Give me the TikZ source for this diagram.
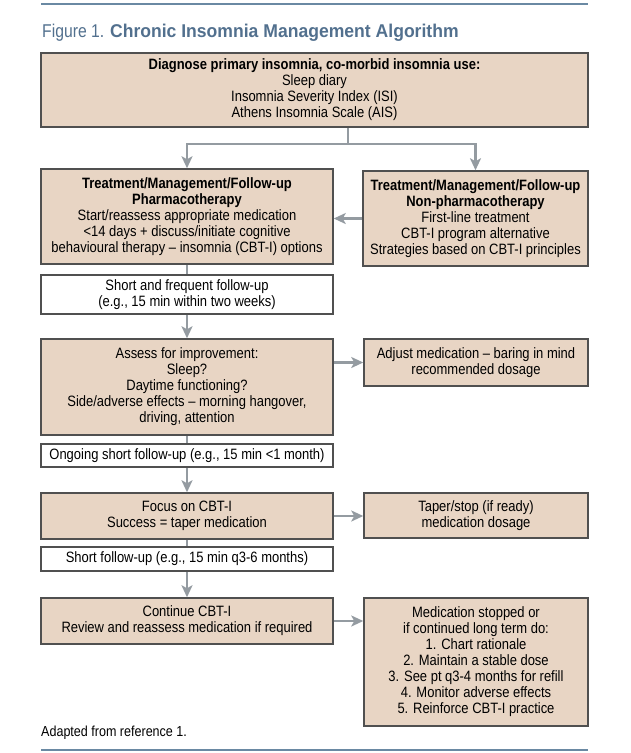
\documentclass[tikz,border=0pt]{standalone}
\usepackage{fontspec}
\setmainfont{Liberation Sans}[FakeStretch=0.865]
\newfontfamily\figfont{Liberation Sans}[FakeStretch=0.85]
\newfontfamily\headfont{Liberation Sans}[FakeStretch=0.95]
\usetikzlibrary{arrows.meta}
\definecolor{boxfill}{HTML}{E8D5C4}
\definecolor{boxline}{HTML}{505050}
\definecolor{linkgrey}{HTML}{949BA1}
\definecolor{ruleblue}{HTML}{6A89A3}
\definecolor{titleblue}{HTML}{52708E}

\begin{document}
\begin{tikzpicture}[x=1pt, y=-1pt, font=\fontsize{15}{16}\selectfont, box/.style={draw=boxline, fill=boxfill, line width=1.5pt, align=center, inner sep=0pt}, blank/.style={box, fill=white}, link/.style={draw=linkgrey, line width=2.2pt}, arr/.style={link, -{Stealth[length=12pt, width=11pt, inset=3pt]}}, rule/.style={draw=ruleblue, line width=1.8pt}]
\useasboundingbox (0,0) rectangle (630,753);
\draw[rule] (41,4) -- (588,4); \draw[rule] (41,750) -- (588,750);
\node[anchor=base west, text=titleblue, font=\fontsize{18.5}{20}\selectfont, inner sep=0pt] (title) at (42,37) {{\figfont Figure 1. }{\headfont\bfseries Chronic Insomnia Management Algorithm}};
\node[box, minimum width=547pt, minimum height=74pt] (diag) at (314.5,90) {\textbf{Diagnose primary insomnia, co-morbid insomnia use:}\\Sleep diary\\Insomnia Severity Index (ISI)\\Athens Insomnia Scale (AIS)};
\node[box, minimum width=292pt, minimum height=95pt] (pharm) at (187,216.5) {\textbf{Treatment/Management/Follow-up}\\\textbf{Pharmacotherapy}\\Start/reassess appropriate medication\\<14 days + discuss/initiate cognitive\\behavioural therapy -- insomnia (CBT-I) options};
\node[box, minimum width=225pt, minimum height=95pt] (nonph) at (475.5,218.5) {\textbf{Treatment/Management/Follow-up}\\\textbf{Non-pharmacotherapy}\\First-line treatment\\CBT-I program alternative\\Strategies based on CBT-I principles};
\node[blank, minimum width=292pt, minimum height=39pt] (fuA) at (187,294.5) {Short and frequent follow-up\\(e.g., 15 min within two weeks)};
\node[box, minimum width=292pt, minimum height=96pt] (assess) at (187,387) {Assess for improvement:\\Sleep?\\Daytime functioning?\\Side/adverse effects -- morning hangover,\\driving, attention};
\node[box, minimum width=224pt, minimum height=47pt] (adjust) at (476,362.5) {Adjust medication -- baring in mind\\recommended dosage};
\node[blank, minimum width=292pt, minimum height=23pt] (fuB) at (187,455.5) {Ongoing short follow-up (e.g., 15 min <1 month)};
\node[box, minimum width=292pt, minimum height=46pt] (focus) at (187,516) {Focus on CBT-I\\Success = taper medication};
\node[box, minimum width=224pt, minimum height=45pt] (taper) at (476,515.5) {Taper/stop (if ready)\\medication dosage};
\node[blank, minimum width=292pt, minimum height=24pt] (fuC) at (187,559) {Short follow-up (e.g., 15 min q3-6 months)};
\node[box, minimum width=292pt, minimum height=46pt] (cont) at (187,621) {Continue CBT-I\\Review and reassess medication if required};
\node[box, minimum width=224pt, minimum height=128pt] (stop) at (476,662) {Medication stopped or\\if continued long term do:\\1. Chart rationale\\2. Maintain a stable dose\\3. See pt q3-4 months for refill\\4. Monitor adverse effects\\5. Reinforce CBT-I practice};
\node[anchor=west, font=\fontsize{14.5}{16}\selectfont, inner sep=0pt] (src) at (41,733) {Adapted from reference 1.};
\coordinate (split) at (348,144);
\draw[link] (diag.south -| split) -- (split); \draw[arr] (split) -| (pharm.north); \draw[arr] (split) -| (nonph.north);
\draw[arr] (nonph.west) -- (nonph.west -| pharm.east);
\draw[link] (pharm.south) -- (fuA.north); \draw[arr] (fuA.south) -- (assess.north);
\draw[arr] (adjust.west -| assess.east) -- (adjust.west);
\draw[link] (assess.south) -- (fuB.north); \draw[arr] (fuB.south) -- (focus.north);
\draw[arr] (focus.east) -- (focus.east -| taper.west);
\draw[link] (focus.south) -- (fuC.north); \draw[arr] (fuC.south) -- (cont.north);
\draw[arr] (cont.east) -- (cont.east -| stop.west);
\end{tikzpicture}
\end{document}
